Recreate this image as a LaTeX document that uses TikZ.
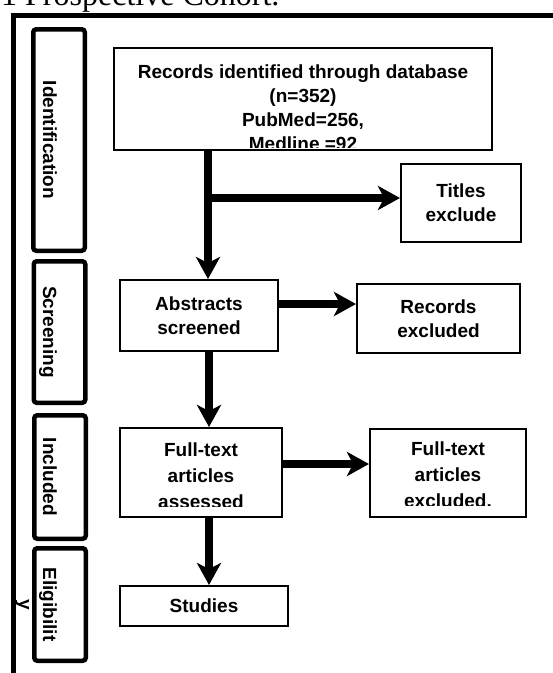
\documentclass[tikz,border=0pt]{standalone}
\usepackage{fontspec}
\setmainfont{Liberation Sans}
\newfontfamily\captionserif{Liberation Serif}
\usetikzlibrary{arrows.meta,positioning}

\tikzset{
  flowbox/.style={draw, line width=2pt, inner sep=0pt, align=center,
    font=\bfseries\fontsize{19}{24}\selectfont},
  flowtext/.style={inner sep=0pt, align=center,
    font=\bfseries\fontsize{19}{24}\selectfont},
  sidebox/.style={draw, line width=4.5pt, rounded corners=3pt,
    minimum width=51.5pt, inner sep=0pt},
  sidelabel/.style={inner sep=0pt, rotate=-90, align=center,
    font=\bfseries\fontsize{19}{24}\selectfont},
  flowarrow/.style={line width=8pt,
    -{Stealth[length=22pt,width=24pt,inset=6pt]}}
}

\begin{document}
\begin{tikzpicture}[x=1pt,y=-1pt]
  \useasboundingbox (0,0) rectangle (553,673);

  \node[anchor=base west, inner sep=0pt,
    font=\captionserif\fontsize{32}{36}\selectfont] (caption) at (1,5)
    {1 Prospective Cohort.};
  \draw[line width=4.5pt] (560,15.5) -- (13.5,15.5) -- (13.5,680);

  % phase labels on the left
  \node[sidebox, minimum height=221.5pt] (sident) at (59,140) {};
  \node[sidebox, minimum height=141.5pt] (sscreen) at (59.5,332) {};
  \node[sidebox, minimum height=123.5pt] (sincl) at (60,477) {};
  \node[sidebox, minimum height=112.5pt] (selig) at (60,604.5) {};
  \node[sidelabel, anchor=base] (lident) at (43,140) {Identification};
  \node[sidelabel, anchor=base] (lscreen) at (43,332) {Screening};
  \node[sidelabel, anchor=base] (lincl) at (43,477) {Included};
  \node[sidelabel] (lelig) at (36,604.5) {Eligibilit\\y};

  % flow boxes
  \node[flowbox, minimum width=378pt, minimum height=102pt] (db) at (303,99) {};
  \node[flowbox, minimum width=120pt, minimum height=78pt] (titles) at (461,203)
    {Titles\\exclude};
  \node[flowbox, minimum width=158pt, minimum height=71pt] (abs) at (199,315.5)
    {Abstracts\\screened};
  \node[flowbox, minimum width=163pt, minimum height=69pt] (recx) at (438.5,318.5)
    {Records\\excluded};
  \node[flowbox, minimum width=162pt, minimum height=89pt] (fta) at (201,472.5) {};
  \node[flowbox, minimum width=156pt, minimum height=88pt] (ftx) at (448,473) {};
  \node[flowbox, minimum width=168pt, minimum height=40pt] (stud) at (204,606)
    {Studies};

  % texts that run past the bottom of their box
  \begin{scope}
    \clip ([yshift=4pt]db.south west) rectangle (db.north east);
    \node[flowtext] (dbtext) at (303,108)
      {Records identified through database\\(n=352)\\PubMed=256,\\Medline =92};
  \end{scope}
  \begin{scope}
    \clip ([yshift=12pt]fta.south west) rectangle (fta.north east);
    \node[flowtext, font=\bfseries\fontsize{19}{26}\selectfont] (ftatext)
      at (201,476) {Full-text\\articles\\assessed};
  \end{scope}
  \begin{scope}
    \clip ([yshift=13pt]ftx.south west) rectangle (ftx.north east);
    \node[flowtext, font=\bfseries\fontsize{19}{26}\selectfont] (ftxtext)
      at (448,475) {Full-text\\articles\\excluded.};
  \end{scope}

  % arrows
  \coordinate (split) at (208,198);
  \coordinate (absright) at (0,304);
  \coordinate (absdown) at (209,0);
  \coordinate (ftaright) at (0,464);
  \draw[flowarrow] (db.south -| split) -- (abs.north -| split);
  \draw[flowarrow] (split) -- (titles.west |- split);
  \draw[flowarrow] (abs.east |- absright) -- (recx.west |- absright);
  \draw[flowarrow] (abs.south -| absdown) -- (fta.north -| absdown);
  \draw[flowarrow] (fta.east |- ftaright) -- (ftx.west |- ftaright);
  \draw[flowarrow] (fta.south -| absdown) -- (stud.north -| absdown);
\end{tikzpicture}
\end{document}
